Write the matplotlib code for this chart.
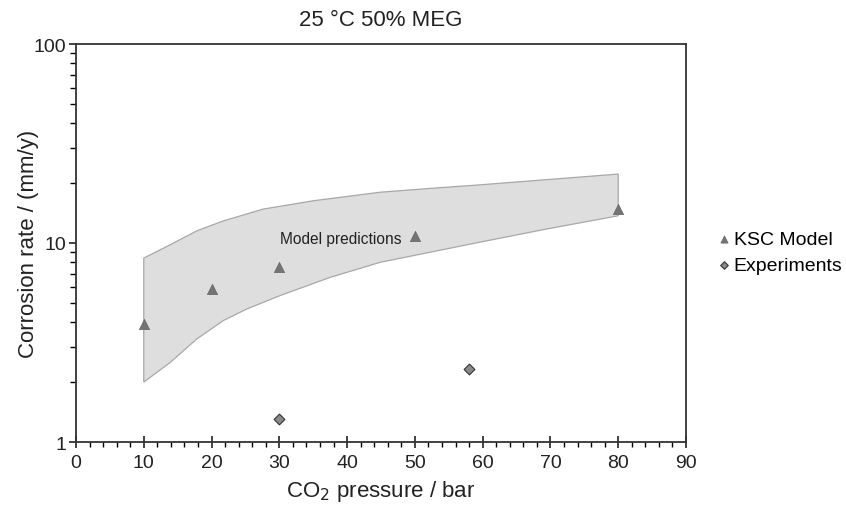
import numpy as np
import matplotlib.pyplot as plt
from matplotlib.ticker import MultipleLocator, LogLocator, NullFormatter, FixedLocator, FixedFormatter

plt.rcParams['font.family'] = ['Liberation Sans', 'DejaVu Sans']

# KSC model predictions
ksc_p = [10, 20, 30, 50, 80]
ksc_rate = [3.9, 5.9, 7.6, 10.8, 14.9]

# measured corrosion rates
exp_p = [30, 58]
exp_rate = [1.31, 2.33]

# envelope of model predictions
band_upper_p = [10, 13.9, 17.8, 21.7, 27.6, 35.0, 44.9, 52.2, 59.6, 80]
band_upper = [8.4, 9.8, 11.5, 12.9, 14.8, 16.3, 18.0, 18.8, 19.6, 22.2]
band_lower_p = [10, 13.9, 17.8, 21.7, 25.2, 30.1, 37.5, 44.9, 52.2, 59.6, 69.4, 80]
band_lower = [2.0, 2.51, 3.29, 4.07, 4.66, 5.44, 6.72, 8.0, 8.98, 10.1, 11.75, 13.7]

fig = plt.figure(figsize=(8.46, 5.06), dpi=100)
ax = fig.add_axes([76 / 846, 1 - 443 / 506, (686 - 76) / 846, (443 - 45) / 506])

poly_x = band_upper_p + band_lower_p[::-1]
poly_y = band_upper + band_lower[::-1]
ax.fill(poly_x, poly_y, facecolor='#dedede', edgecolor='#a8a8a8', linewidth=0.9, zorder=1)

ax.scatter(ksc_p, ksc_rate, marker='^', s=55, color='#747474', edgecolor='#666666',
           linewidth=0.5, zorder=3, label='KSC Model')
ax.scatter(exp_p, exp_rate, marker='D', s=30, color='#8a8a8a', edgecolor='#333333',
           linewidth=0.8, zorder=3, label='Experiments')

ax.text(30.1, 10.5, 'Model predictions', fontsize=11.2, color='#222222',
        va='center', ha='left', zorder=4)

ax.set_yscale('log')
ax.set_xlim(0, 90)
ax.set_ylim(1, 100)

ax.xaxis.set_major_locator(MultipleLocator(10))
ax.xaxis.set_minor_locator(MultipleLocator(2))
ax.yaxis.set_major_locator(FixedLocator([1, 10, 100]))
ax.yaxis.set_major_formatter(FixedFormatter(['1', '10', '100']))
ax.yaxis.set_minor_locator(LogLocator(base=10, subs=np.arange(2, 10)))
ax.yaxis.set_minor_formatter(NullFormatter())

ax.tick_params(axis='x', which='major', direction='inout', length=9, width=1.2,
               labelsize=14, pad=4)
ax.tick_params(axis='x', which='minor', direction='out', length=3.5, width=1)
ax.tick_params(axis='y', which='major', direction='out', length=5, width=1.2,
               labelsize=14, pad=2)
ax.tick_params(axis='y', which='minor', direction='out', length=4, width=1)
ax.tick_params(colors='#222222')

for s in ax.spines.values():
    s.set_linewidth(1.3)
    s.set_color('#333333')

ax.set_xlabel('CO$_2$ pressure / bar', fontsize=16, color='#222222', labelpad=5)
ax.set_ylabel('Corrosion rate / (mm/y)', fontsize=16, color='#222222')
ax.yaxis.set_label_coords(-0.061, 0.5)
ax.set_title('25 °C 50% MEG', fontsize=16, color='#222222', pad=14)

ax.legend(loc='center left', bbox_to_anchor=(718 / 846, 1 - 253 / 506),
          bbox_transform=fig.transFigure, frameon=False,
          fontsize=14, handletextpad=0.2, handlelength=0.6, markerscale=0.7,
          labelspacing=0.45, borderaxespad=0, borderpad=0)

plt.savefig('out.png', dpi=100)
